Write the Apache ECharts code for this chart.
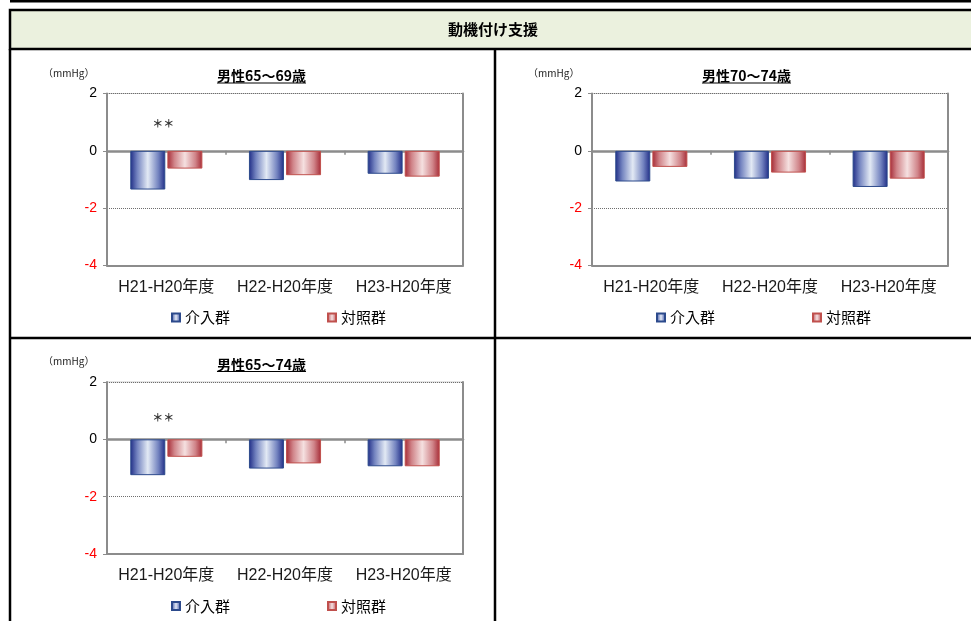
<!DOCTYPE html>
<html>
<head>
<meta charset="utf-8">
<style>
html,body{margin:0;padding:0;background:#fff;}
#chart{width:971px;height:621px;}
</style>
<script src="https://cdn.jsdelivr.net/npm/echarts@6/dist/echarts.min.js"></script>
</head>
<body>
<div id="chart"></div>
<script>
// ---- data ----
const headerTitle = '動機付け支援';
const unitLabel = '（mmHg）';
const categories = ['H21-H20年度', 'H22-H20年度', 'H23-H20年度'];
const seriesNames = ['介入群', '対照群'];
const panelTitles = ['男性65～69歳', '男性70～74歳', '男性65～74歳'];
const intervention65_69 = [-1.35, -1.02, -0.80];
const control65_69 = [-0.62, -0.85, -0.90];
const intervention70_74 = [-1.07, -0.97, -1.26];
const control70_74 = [-0.56, -0.76, -0.97];
const intervention65_74 = [-1.25, -1.02, -0.94];
const control65_74 = [-0.61, -0.84, -0.94];
const sigMarks65_69 = ['＊＊', '', ''];
const sigLevel65_69 = [0.95, null, null];
const sigMarks70_74 = ['', '', ''];
const sigLevel70_74 = [null, null, null];
const sigMarks65_74 = ['＊＊', '', ''];
const sigLevel65_74 = [0.75, null, null];
const yMin = -4, yMax = 2, yStep = 2;

// ---- layout ----
const panels = [
  {title: panelTitles[0], inter: intervention65_69, ctrl: control65_69, sig: sigMarks65_69, sigY: sigLevel65_69, dx: 0, dy: 0},
  {title: panelTitles[1], inter: intervention70_74, ctrl: control70_74, sig: sigMarks70_74, sigY: sigLevel70_74, dx: 485, dy: 0},
  {title: panelTitles[2], inter: intervention65_74, ctrl: control65_74, sig: sigMarks65_74, sigY: sigLevel65_74, dx: 0, dy: 288.5}
];
const latin = "'Liberation Sans', Arial, 'Noto Sans CJK JP', sans-serif";
const jp = "'Noto Sans CJK JP', 'Liberation Sans', sans-serif";
const axisGray = '#8c8c8c';

const blueFill = new echarts.graphic.LinearGradient(0, 0, 1, 0, [
  {offset: 0, color: '#1f2c86'}, {offset: 0.2, color: '#7484c0'},
  {offset: 0.5, color: '#e2e9f4'}, {offset: 0.8, color: '#7484c0'}, {offset: 1, color: '#1f2c86'}
]);
const redFill = new echarts.graphic.LinearGradient(0, 0, 1, 0, [
  {offset: 0, color: '#a52a35'}, {offset: 0.2, color: '#d08489'},
  {offset: 0.5, color: '#f5e0e0'}, {offset: 0.8, color: '#d08489'}, {offset: 1, color: '#a52a35'}
]);

const measureCtx = document.createElement('canvas').getContext('2d');
function textWidth(str, font) { measureCtx.font = font; return measureCtx.measureText(str).width; }

const grids = [], xAxes = [], yAxes = [], series = [], legends = [], graphics = [];

// frame
graphics.push({type: 'rect', shape: {x: 10, y: 0, width: 961, height: 2.5}, style: {fill: '#000'}, z: 10});
graphics.push({type: 'rect', shape: {x: 10, y: 10, width: 975, height: 39}, style: {fill: '#ebf1de', stroke: '#000', lineWidth: 2.5}, z: 0});
graphics.push({type: 'text', x: 493, y: 29.5, style: {text: headerTitle, font: 'bold 15px ' + jp, fill: '#000', align: 'center', verticalAlign: 'middle'}, z: 10});
graphics.push({type: 'line', shape: {x1: 10, y1: 49, x2: 10, y2: 621}, style: {stroke: '#000', lineWidth: 2.5}, z: 10});
graphics.push({type: 'line', shape: {x1: 495, y1: 49, x2: 495, y2: 621}, style: {stroke: '#000', lineWidth: 2.5}, z: 10});
graphics.push({type: 'line', shape: {x1: 10, y1: 338, x2: 971, y2: 338}, style: {stroke: '#000', lineWidth: 2.5}, z: 10});

panels.forEach((p, k) => {
  const gl = 107 + p.dx, gt = 93.5 + p.dy;
  grids.push({left: gl, top: gt, width: 356, height: 172, show: true, borderColor: '#c8c8c8', borderWidth: 1, containLabel: false});
  // bottom category axis with labels
  xAxes.push({type: 'category', gridIndex: k, data: categories, position: 'bottom',
    axisLine: {onZero: false, lineStyle: {color: axisGray, width: 2}},
    axisTick: {show: false},
    axisLabel: {interval: 0, fontSize: 16, color: '#1a1a1a', fontFamily: latin, margin: 14}});
  // zero line with category ticks
  xAxes.push({type: 'category', gridIndex: k, data: categories, position: 'top',
    axisLine: {onZero: true, lineStyle: {color: axisGray, width: 2.5}},
    axisTick: {show: true, inside: true, interval: 0, length: 4, lineStyle: {color: axisGray, width: 1.5}},
    axisLabel: {show: false}, splitLine: {show: false}});
  yAxes.push({type: 'value', gridIndex: k, min: yMin, max: yMax, interval: yStep,
    axisLine: {show: true, lineStyle: {color: axisGray, width: 2}},
    axisTick: {show: true, length: 4, lineStyle: {color: axisGray, width: 1}},
    axisLabel: {fontSize: 14, fontFamily: latin, margin: 10,
      formatter: v => (v < 0 ? '{neg|' + v + '}' : '{pos|' + v + '}'),
      rich: {neg: {color: '#ff0000', fontSize: 14, fontFamily: latin}, pos: {color: '#000', fontSize: 14, fontFamily: latin}}},
    splitLine: {show: true, lineStyle: {type: 'dotted', color: '#6e6e6e', width: 1}}});
  yAxes.push({type: 'value', gridIndex: k, min: yMin, max: yMax, interval: yStep, position: 'right',
    axisLine: {show: true, onZero: false, lineStyle: {color: axisGray, width: 2}},
    axisTick: {show: false}, axisLabel: {show: false}, splitLine: {show: false}});

  const xi = 2 * k, yi = 2 * k;
  series.push({type: 'bar', name: seriesNames[0], xAxisIndex: xi, yAxisIndex: yi, data: p.inter,
    barWidth: 35, barGap: '6%', itemStyle: {color: blueFill, borderColor: '#2c4a8c', borderWidth: 1}, z: 2});
  series.push({type: 'bar', name: seriesNames[1], xAxisIndex: xi, yAxisIndex: yi, data: p.ctrl,
    barWidth: 35, barGap: '6%', itemStyle: {color: redFill, borderColor: '#c0504d', borderWidth: 1}, z: 2});
  const sigData = [];
  p.sig.forEach((s, i) => { if (s && p.sigY[i] != null) sigData.push({value: [categories[i], p.sigY[i]], mark: s}); });
  series.push({type: 'scatter', name: 'sig' + k, xAxisIndex: xi, yAxisIndex: yi, data: sigData,
    symbolSize: 1, itemStyle: {color: 'rgba(0,0,0,0)'}, silent: true,
    label: {show: true, position: 'inside', offset: [-3, 0], formatter: d => d.data.mark, fontSize: 11, fontWeight: 'bold', color: '#000', fontFamily: jp}});

  legends.push({data: seriesNames, left: 166 + p.dx, top: 305 + p.dy, itemWidth: 8, itemHeight: 8, itemGap: 97,
    icon: 'rect', textStyle: {fontSize: 15, color: '#000', fontFamily: jp}, selectedMode: false});

  // unit & title
  graphics.push({type: 'text', x: 43 + p.dx, y: 73 + p.dy, style: {text: unitLabel, font: '10px ' + jp, fill: '#222', align: 'left', verticalAlign: 'middle'}, z: 10});
  const tFont = 'bold 14px ' + jp;
  const tw = textWidth(p.title, tFont);
  const cx = 261.5 + p.dx, cy = 76 + p.dy;
  graphics.push({type: 'text', x: cx, y: cy, style: {text: p.title, font: tFont, fill: '#000', align: 'center', verticalAlign: 'middle'}, z: 10});
  graphics.push({type: 'line', shape: {x1: cx - tw / 2, y1: cy + 7, x2: cx + tw / 2, y2: cy + 7}, style: {stroke: '#000', lineWidth: 1}, z: 10});
});

const chart = echarts.init(document.getElementById('chart'));
chart.setOption({
  animation: false,
  backgroundColor: '#fff',
  grid: grids, xAxis: xAxes, yAxis: yAxes, legend: legends, series: series, graphic: graphics
});
</script>
</body>
</html>
